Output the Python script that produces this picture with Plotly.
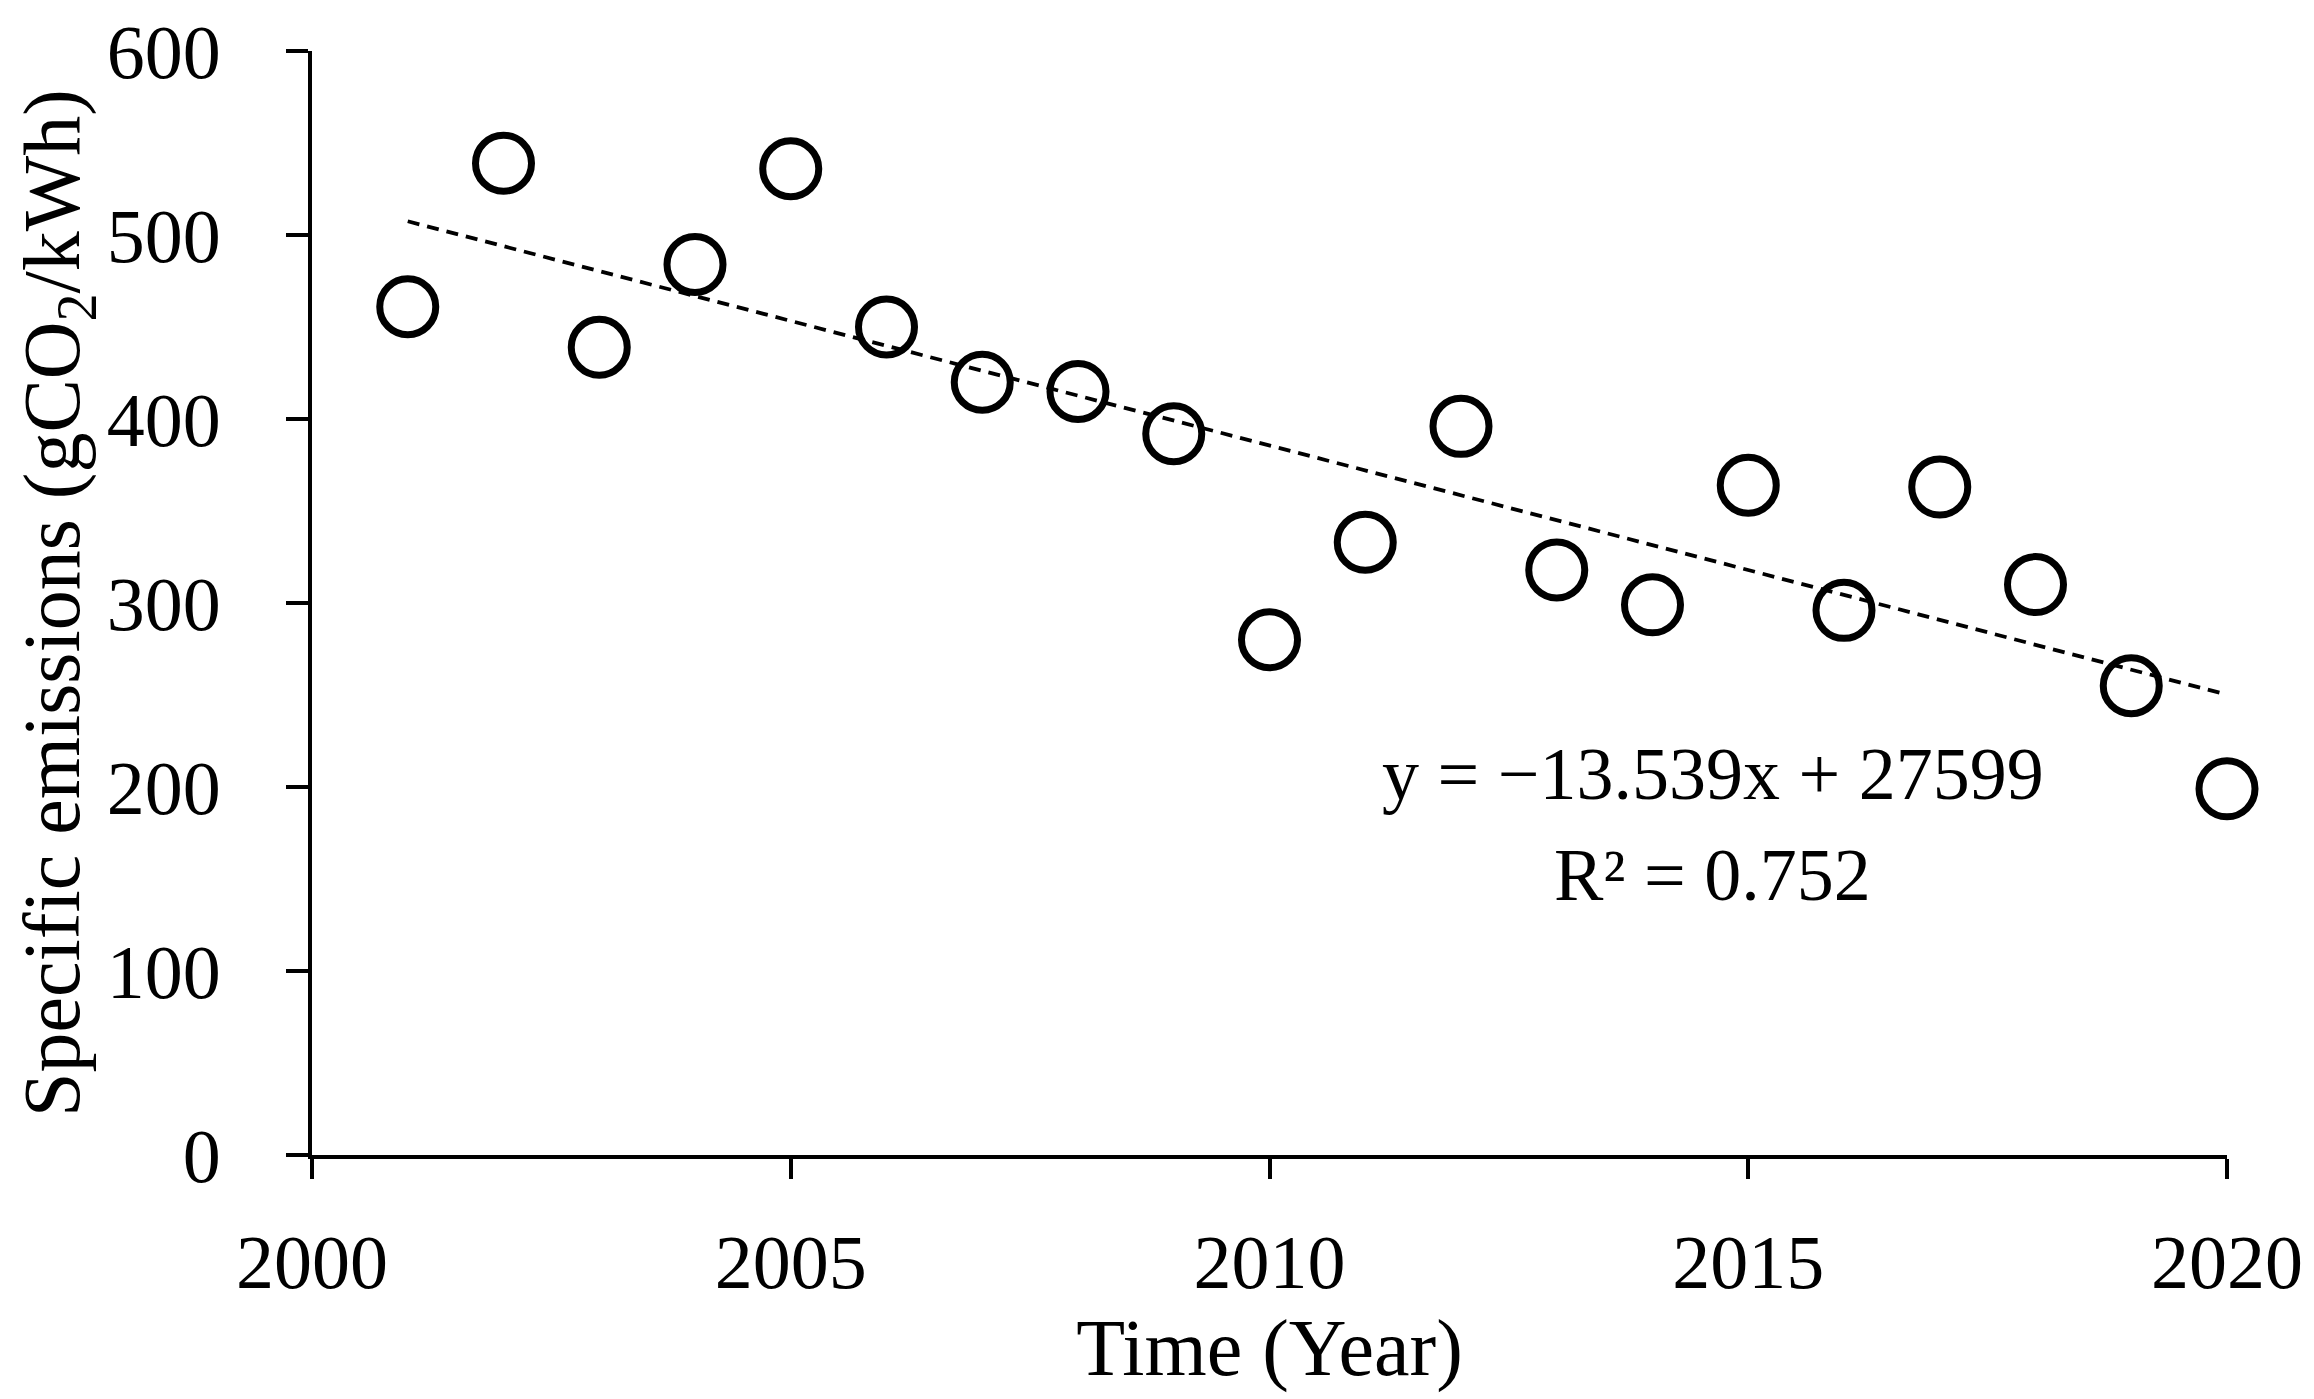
import plotly.graph_objects as go

years = [2001, 2002, 2003, 2004, 2005, 2006, 2007, 2008, 2009, 2010,
         2011, 2012, 2013, 2014, 2015, 2016, 2017, 2018, 2019, 2020]
emissions = [461, 539, 439, 484, 536, 450, 420, 415, 392, 280,
             333, 396, 318, 299, 364, 296, 363, 310, 255, 199]
slope = -13.539
intercept = 27599
r2 = 0.752
x_ticks = [2000, 2005, 2010, 2015, 2020]
y_ticks = [0, 100, 200, 300, 400, 500, 600]

FONT = "Liberation Serif"
trend_x = [years[0], years[-1]]
trend_y = [slope * x + intercept for x in trend_x]

fig = go.Figure()
fig.add_trace(go.Scatter(
    x=trend_x, y=trend_y, mode="lines",
    line=dict(color="black", width=3.8, dash="12px,8px"),
    showlegend=False, hoverinfo="skip", cliponaxis=False))
fig.add_trace(go.Scatter(
    x=years, y=emissions, mode="markers",
    marker=dict(symbol="circle-open", size=56, color="black",
                line=dict(color="black", width=7)),
    showlegend=False, cliponaxis=False))

fig.add_annotation(x=2014.63, y=207, xref="x", yref="y",
                   text="y = \u221213.539x + 27599", showarrow=False,
                   font=dict(family=FONT, size=74, color="black"))
fig.add_annotation(x=2014.63, y=152, xref="x", yref="y",
                   text="R\u00b2 = " + str(r2), showarrow=False,
                   font=dict(family=FONT, size=74, color="black"))

fig.update_layout(
    width=2314, height=1399,
    margin=dict(l=304, r=95, t=43, b=252),
    paper_bgcolor="white", plot_bgcolor="white",
    font=dict(family=FONT, size=76, color="black"),
)
fig.update_xaxes(
    range=[2000, 2020], tickvals=x_ticks, ticktext=[str(v) for v in x_ticks],
    showgrid=False, zeroline=False, showline=True, linecolor="black", linewidth=4,
    ticks="outside", ticklen=20, tickwidth=4, tickcolor="black",
    ticklabelstandoff=18, ticklabeloverflow="allow", automargin=False,
    title=dict(text="Time (Year)", standoff=0, font=dict(size=80)),
)
fig.update_yaxes(
    range=[0, 600], tickvals=y_ticks,
    showgrid=False, zeroline=False, showline=True, linecolor="black", linewidth=4,
    ticks="outside", ticklen=22, tickwidth=4, tickcolor="black",
    ticklabelstandoff=50, ticklabeloverflow="allow", automargin=False,
    title=dict(text="Specific emissions (gCO<sub>2</sub>/kWh)", standoff=28,
               font=dict(size=80)),
)

fig.write_html("out.html")
